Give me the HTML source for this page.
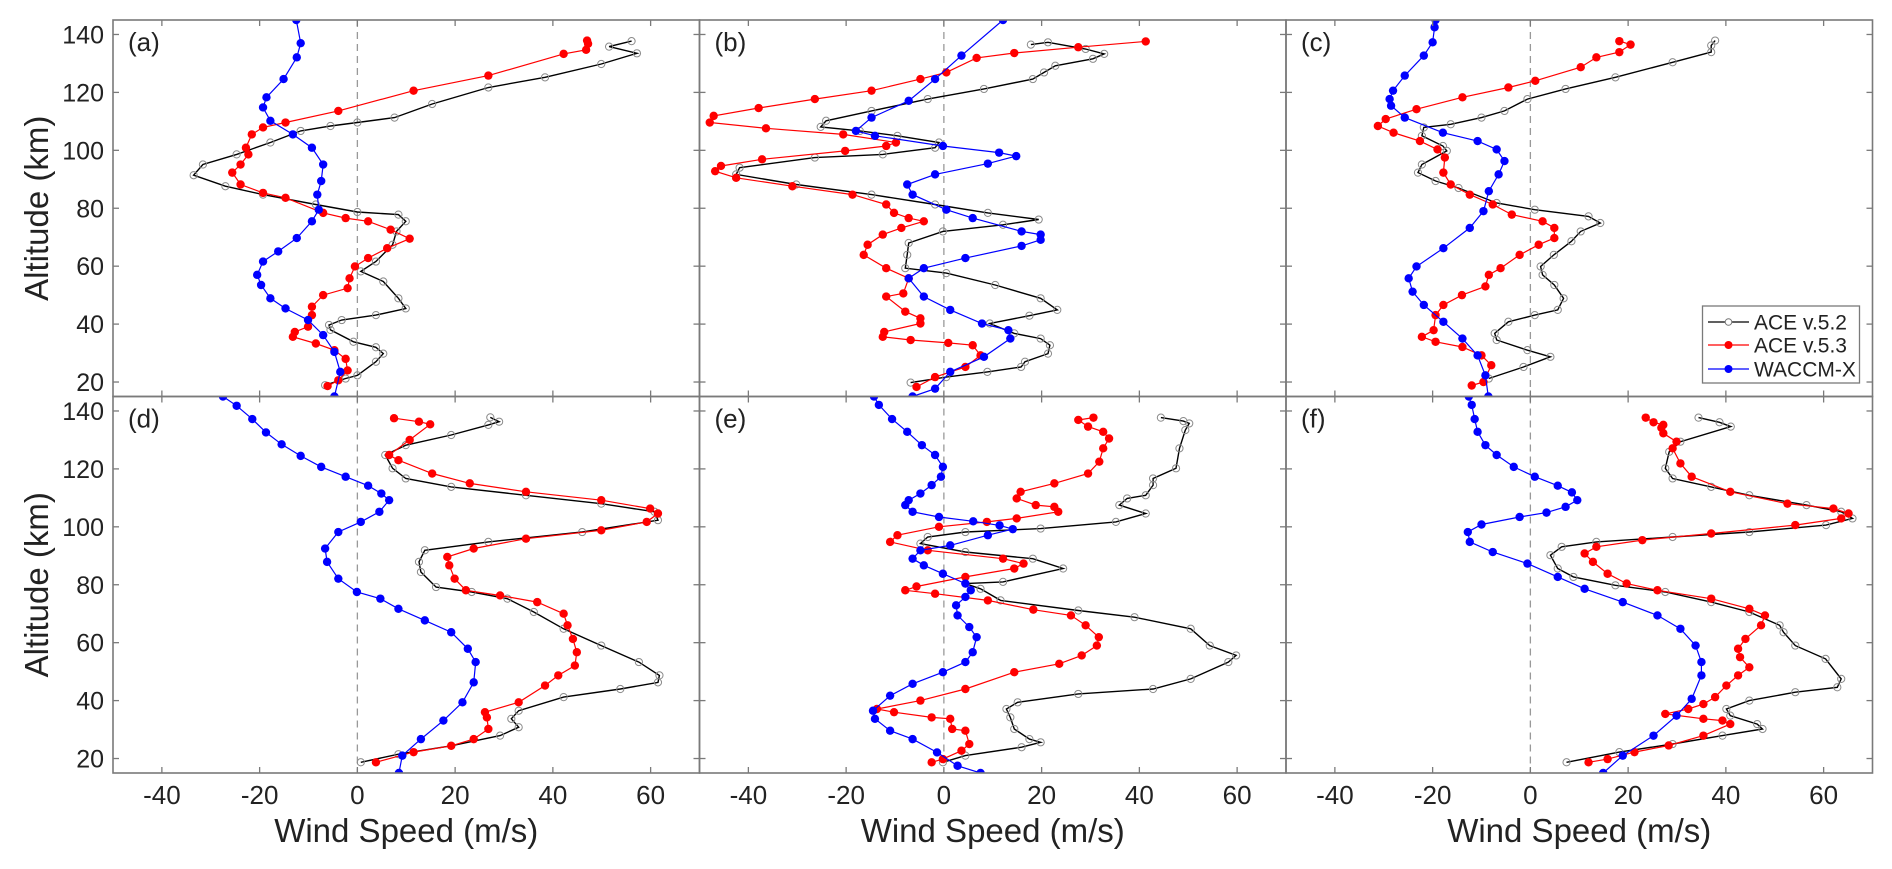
<!DOCTYPE html>
<html><head><meta charset="utf-8">
<style>
html,body{margin:0;padding:0;background:#fff;}
svg{display:block;font-family:"Liberation Sans",Arial,sans-serif;}
</style></head>
<body>
<svg id="chart" width="1892" height="869" viewBox="0 0 1892 869" xmlns="http://www.w3.org/2000/svg"></svg>
<script>
// ---- data (altitude km / wind speed m/s) ----
const xTicks=[-40,-20,0,20,40,60];
const yTicks=[20,40,60,80,100,120,140];
const panelLabels=["(a)","(b)","(c)","(d)","(e)","(f)"];
const seriesNames=["ACE v.5.2","ACE v.5.3","WACCM-X"];

const aBlackAlt=[18.9,21.2,22.3,27,29.8,32,33.9,38,39.7,41.4,43.1,45.4,48.9,54.7,58.2,61.6,67.4,72,75.5,77.8,78.7,81.3,84.7,87.6,91.4,95.1,98.6,102.7,106.7,108.4,109.6,111.3,116,121.7,125.2,129.8,133.5,135.8,137.7];
const aBlackVal=[-6.6,-2.4,0,3.8,5.3,3.8,-0.8,-5.5,-5.8,-3.2,3.8,9.9,8.4,5.3,0.7,3.8,7.2,8,9.9,8.4,0,-8.5,-19.3,-27,-33.5,-31.6,-24.7,-17.8,-11.6,-5.5,0,7.6,15.3,26.8,38.4,49.9,57.2,51.5,56.1];
const aRedAlt=[18.6,20.6,24,28,31,33.3,35.6,37.3,39.1,43.1,46,50,52.4,55.8,59.9,62.8,66.2,69.5,72.6,75.5,76.6,78.4,83.6,85.3,88.2,92.3,95.1,98.6,100.9,105.5,107.9,109.6,113.6,120.6,125.8,133.3,134.7,136.8,137.9];
const aRedVal=[-6.1,-3.9,-2,-2.4,-4.7,-8.5,-13.2,-12.8,-10.1,-9.3,-9.3,-7,-2,-1.6,-0.5,2.2,6.1,10.7,6.8,2.2,-2.4,-7,-14.7,-19.3,-23.9,-25.6,-23.9,-22.3,-22.8,-21.6,-19.3,-14.7,-3.9,11.5,26.8,42.2,46.8,47.2,47];
const aBlueAlt=[15,23.5,30.4,36.2,41.4,45.4,48.9,53.5,57,61.6,65.1,69.7,75.5,79.5,84.7,89.4,95.1,100.9,105.5,110.2,114.8,118.3,124.6,132.1,137,145];
const aBlueVal=[-4.7,-3.5,-4.7,-7,-10.1,-14.7,-17.8,-19.7,-20.5,-19.3,-16.2,-12.4,-9.3,-7.9,-8.2,-7.4,-7,-9.3,-13.2,-17.8,-19.3,-18.6,-15.1,-12.4,-11.6,-12.5];

const bBlackAlt=[19.8,21.7,23.5,25.2,27,29.8,32.7,35,36.8,40.2,42.9,44.9,48.9,53.5,57.6,59.3,63.9,68,72,74.3,76.1,78.4,81.3,84.7,88.2,91.7,94,97.5,98.6,100.9,102.7,105,106.7,108.1,110.2,113.6,117.7,121.2,124.6,126.9,129.2,131.6,133.3,135,137.3,136.5];
const bBlackVal=[-6.8,0.5,8.9,15.8,16.6,21.3,21.7,19.8,14.4,9.4,17.5,23.2,19.8,10.5,0.5,-7.9,-7.5,-7.2,-0.2,12.1,19.4,9,-1.8,-14.8,-30.2,-42.5,-41.8,-26.4,-12.5,-1.8,-1,-9.5,-17.2,-25.2,-24.1,-14.8,-3.3,8.2,18.2,20.5,22.8,30.5,32.8,29,21.3,17.8];
const bRedAlt=[18.3,21.7,25.2,29.2,32.7,33.5,34.5,35.6,37.3,40.2,42,44.3,49.5,50.6,55.8,59.3,63.9,67.4,70.9,73.2,75.5,76.6,78.4,81.3,84.7,87.6,90.5,92.8,94.6,96.9,99.8,101.5,102.7,105.5,107.6,109.6,111.9,114.6,117.7,120.6,124.6,126.9,131.9,133.6,135.6,137.6];
const bRedVal=[-5.6,-1.8,4.4,7.5,5.9,0.9,-6.8,-12.5,-12.2,-4.8,-4.8,-7.9,-11.8,-8.3,-7.2,-11.8,-16.4,-15.6,-12.5,-8.7,-4.1,-7.2,-10.2,-11.8,-18.7,-31,-42.5,-46.8,-45.6,-37.2,-20.2,-11.8,-9.8,-20.6,-36.4,-47.9,-47.1,-37.9,-26.4,-14.8,-4.8,0.5,6.7,14.4,27.5,41.3];
const bBlueAlt=[15,17.7,23.5,28.7,35,37.9,40.2,44.9,49.5,55.8,59.3,62.8,67,69.1,70.9,72,76.6,79.5,84.7,88.2,91.7,95.4,98,99.2,101.5,105,106.7,111.3,117.1,124.6,132.7,145];
const bBlueVal=[-6.4,-1.8,1.3,8.2,13.6,13.2,7.8,1.3,-4.1,-7.2,-4.1,4.4,15.9,19.8,19.8,15.9,5.9,0.5,-6.4,-7.5,-1.8,9,14.8,11.3,-0.2,-14.1,-18,-14.8,-7.2,-1.8,3.6,12.1];

const cBlackAlt=[21.2,25.2,28.7,31,34.5,36.8,40.8,43.1,44.9,48.9,53.5,57,59.9,63.9,68.6,72,74.9,77.2,79.5,81.8,87,89.4,92.3,95.1,99.8,101.5,105,107.9,109,111.3,113.6,117.7,121.2,125.2,130.4,133.9,136.2,137.9];
const cBlackVal=[-8.5,-1.4,4.1,-0.6,-6.9,-7.3,-4.5,0.9,5.6,6.8,4.9,2.5,2.1,4.8,8.4,10.3,14.3,11.9,0.9,-6.9,-14.7,-19.4,-23,-22.2,-17.1,-17.9,-22.2,-21.8,-16.3,-10,-5.3,-0.6,7.2,17.4,29.1,37,37,37.8];
const cRedAlt=[18.8,20,25.8,29.2,32.1,33.9,35.6,37.9,43.1,46.6,50,53,57,59.3,63.9,67.4,69.7,73.2,75.5,77.8,81.3,84.7,88.2,92.3,97.5,100.3,103.2,106.1,108.4,110.8,114.2,118.3,121.7,124,128.7,132.1,133.9,136.5,137.7];
const cRedVal=[-12,-9.6,-8,-10,-13.9,-19.4,-22.2,-19.8,-19.4,-17.8,-14,-9.2,-8.5,-6.1,-2.2,1.7,4.9,4.9,2.5,-3.8,-7.7,-12.4,-16.3,-17.8,-17.5,-19,-22.6,-28,-31.2,-29.6,-23.3,-13.9,-4.5,1,10.3,13.5,18.2,20.5,18.2];
const cBlueAlt=[15,22.3,29.2,35,40.8,46.6,51.2,55.8,59.9,66.2,73.2,79,85.9,91.7,96.3,100.3,103.2,106.1,111.3,115.4,117.7,120.6,125.8,132.7,137.3,142.5,145];
const cBlueVal=[-8.6,-9.2,-10.8,-13.9,-17.8,-21.8,-24.1,-24.9,-23.3,-17.8,-12.4,-9.6,-8.5,-6.5,-5.3,-6.9,-10.8,-17.9,-25.7,-28.5,-28.8,-28.1,-25.7,-21.8,-20,-19.6,-19.4];

const dBlackAlt=[18.7,21.5,24.4,27.9,30.8,33.7,36.5,41.2,44,46.3,48.7,53.3,59,64.8,70.6,75.2,77.5,79.2,84.4,87.9,91.9,94.8,98.2,102.3,105.2,108,110.9,113.8,116.7,120.2,124.8,128.2,131.7,135.2,136.3,137.8];
const dBlackVal=[0.7,8.4,19.2,29.2,33,31.5,33,42.2,53.8,61.5,61.8,57.6,49.9,42.2,36.1,30.7,23.4,16.1,13,12.6,13.8,26.8,46,61.5,60.8,49.9,34.5,19.2,9.9,7.2,5.7,9.9,19.2,26.8,29,27.2];
const dRedAlt=[18.7,22.2,24.4,26.7,30.2,34.2,36,39.4,45.2,48.7,52.1,56.7,61.3,66,70,74,76.3,78.1,82.1,86.7,89.6,92.5,95.9,98.8,101.7,104.6,106.3,109.2,112.1,115,118.4,123,124.8,130,135.4,136.3,137.5];
const dRedVal=[3.8,11.5,19.2,23.8,26.8,26.5,26.1,33,38.4,41.1,44.5,44.9,44.1,43,42.2,36.8,29.2,22.2,19.9,18.8,18.4,23.8,34.5,49.9,59.2,61.5,59.9,49.9,34.5,23,15.3,8.4,6.5,10.7,14.9,12.6,7.5];
const dBlueAlt=[15,21,26.7,33.1,39.4,46.3,53.3,57.9,63.6,67.7,71.7,75.2,77.5,82.1,87.9,92.5,98.2,101.7,105.2,109.2,111.5,114.2,117.3,120.7,124.5,128.5,132.6,137.2,141.8,145];
const dBlueVal=[8.5,9.2,13,17.6,21.5,23.8,24.2,22.6,19.2,13.8,8.4,4.7,-0.1,-3.9,-6.2,-6.6,-3.9,0.7,4.5,6.5,4.9,2.2,-2.4,-7.4,-11.6,-15.5,-18.7,-21.5,-24.7,-27.5];

const eBlackAlt=[18.7,21,23.9,25.6,26.7,30.2,34.2,37.1,39.4,42.3,44,47.5,53.3,55.6,59,64.8,68.8,71.1,74.6,78.6,80.4,81,85.6,89,91.3,94.2,96.5,98.2,99.4,101.7,104.6,107.5,109.8,110.9,114.4,116.7,120.2,127.1,133.4,135.7,136.5,137.7];
const eBlackVal=[-0.2,4.4,15.9,19.8,17.5,14.4,13.6,12.8,15.1,27.5,42.8,50.5,58.2,59.8,54.4,50.5,39,27.5,11.6,7.5,4.4,12.1,24.4,18.2,4.4,-4.8,-3.3,4.4,19.8,35.2,41.3,35.9,37.5,41.3,42.8,42.8,47.5,48.2,49.4,50.2,49,44.4];
const eRedAlt=[18.7,19.8,22.7,25,29.6,30.2,33.7,34.2,36,37.1,40,44,49.8,52.7,55.6,59,61.9,66,69.4,71.4,74.6,76.9,78.1,79.4,82.7,85.6,87.3,89,91.9,94.8,97.1,100,101.7,102.9,105.2,106.9,107.5,109.8,112.1,115,118.4,122.5,127.1,130.5,132.8,134.6,136.9,137.7];
const eRedVal=[-2.5,-0.2,3.6,5.2,4.4,1.7,1.3,-2.5,-10.2,-13.7,-4.8,4.4,14.4,23.6,28.2,31.3,31.7,29,26,18.3,9,-1.8,-7.9,-5.6,4.4,14.4,16.3,12.1,-3.3,-11,-9.5,-1,8.8,14.9,23.4,22.6,18.8,14.9,15.7,22.6,29.5,31.8,32.6,33.8,32.6,29.5,27.5,30.6];
const eBlueAlt=[15,17.5,22.1,26.7,29.6,33.7,36.5,41.7,45.8,49.8,53.3,56.7,61.9,65.4,69.4,72.9,75.8,78.1,80.4,83.8,86.7,89,91.9,93.6,97.1,99.2,100.5,101.9,103.4,105.2,107.5,109.2,111.5,114.4,117.3,120.7,124.8,128.2,132.8,137.2,142.1,145];
const eBlueVal=[7.5,2.8,-1.4,-6.4,-11,-14.1,-14.5,-11,-6.4,-0.2,4.4,5.9,6.7,5.2,2.8,2.5,4.4,5.5,4.4,-0.2,-4.1,-6.4,-4.8,1.3,9,14.1,11.4,6,-1,-6.4,-7.9,-7.2,-4.8,-2.5,-0.6,-0.2,-1.8,-4.5,-7.5,-10.6,-13.3,-14.3];

const fBlackAlt=[18.7,22.2,25,27.9,30.2,31.9,34.8,37.1,40,42.9,44.6,47.5,54.4,59,63.6,66,70.6,74,77.5,79.8,82.7,85.6,90.2,93.1,94.8,96.5,98.2,100.6,102.9,105.2,107.5,110.9,113.8,116.7,120.2,125.9,129.4,134.6,136.1,137.7];
const fBlackVal=[7.4,18.2,29.1,39.3,47.5,46.4,40.9,40.1,44.8,54.2,62.8,63.6,60.4,54.2,51.8,51,44.8,37,27.6,17.4,8.8,5.6,4.1,6.4,13.5,29.1,44.8,60.5,65.9,63.6,56.5,44.8,37,29.1,27.6,28.4,30.7,41,38.7,34.4];
const fRedAlt=[18.7,19.8,22.2,24.5,27.9,31.9,33.1,33.7,35.4,37.1,38.8,41.2,45.2,48.7,51.5,55,57.9,61.3,66,69.4,71.7,75.2,78.1,80.4,83.8,87.9,90.8,93.1,95.4,97.7,100.6,102.9,104.6,106.3,108,112.1,117.3,121.9,127.1,129.4,132.3,134.2,135.2,136.1,137.7];
const fRedVal=[11.9,15.8,21.3,28.3,35.4,40.9,39.3,35.4,27.6,32.3,35.4,37.8,40.1,42.5,44.8,42.9,42.5,44,47.2,48,44.8,37,26,19.7,15.8,12.8,11.1,13.5,22.9,37,54.2,63.6,65.1,62,52.6,40.9,33,30.7,29.1,29.9,27.2,26.8,27.2,25.2,23.6];
const fBlueAlt=[15,21,27.9,34.8,40.6,48.7,53.3,59,64.8,69.4,74,78.6,82.7,87.3,91.3,94.8,98.2,100.8,103.4,104.9,106.9,109.2,111.9,114.2,117.3,120.7,124.8,128.2,132.8,137.2,142.1,145];
const fBlueVal=[14.9,18.9,25.2,29.9,33,35,35,33.8,30.7,26,18.9,11.1,5.6,-0.6,-7.7,-12.4,-12.8,-10,-2.2,3.3,7.2,9.6,8.5,5.6,0.9,-3.4,-6.9,-9.2,-10.8,-11.4,-12,-12.6];

const panelAlts=[[aBlackAlt,aRedAlt,aBlueAlt],[bBlackAlt,bRedAlt,bBlueAlt],[cBlackAlt,cRedAlt,cBlueAlt],[dBlackAlt,dRedAlt,dBlueAlt],[eBlackAlt,eRedAlt,eBlueAlt],[fBlackAlt,fRedAlt,fBlueAlt]];
const panelVals=[[aBlackVal,aRedVal,aBlueVal],[bBlackVal,bRedVal,bBlueVal],[cBlackVal,cRedVal,cBlueVal],[dBlackVal,dRedVal,dBlueVal],[eBlackVal,eRedVal,eBlueVal],[fBlackVal,fRedVal,fBlueVal]];

// ---- layout ----
const NS="http://www.w3.org/2000/svg";
const svg=document.getElementById('chart');
const LEFTS=[113,699.5,1286], TOPS=[20,396.5], W=586.5, H=376.5;
const XMIN=-50,XMAX=70,YMIN=15,YMAX=145;
function mk(tag,attrs,parent){const e=document.createElementNS(NS,tag);for(const k in attrs)e.setAttribute(k,attrs[k]);(parent||svg).appendChild(e);return e;}
const defs=mk('defs',{});

const colors=["#000000","#ff0000","#0000ff"];
for(let p=0;p<6;p++){
  const col=p%3,row=Math.floor(p/3);
  const L=LEFTS[col],T=TOPS[row];
  const sx=v=>L+(v-XMIN)/(XMAX-XMIN)*W;
  const sy=a=>T+H-(a-YMIN)/(YMAX-YMIN)*H;
  const g=mk('g',{});
  
  
  const cp=mk('clipPath',{id:'clip'+p},defs);
  mk('rect',{x:L,y:T,width:W,height:H},cp);
  // zero line
  const z=mk('line',{x1:sx(0),x2:sx(0),y1:T,y2:T+H,stroke:'#999',"stroke-width":1.3,"stroke-dasharray":"7,5"},g);
  
  
  // series
  const sg=mk('g',{"clip-path":'url(#clip'+p+')'},g);
  for(let s=0;s<3;s++){
    const alts=panelAlts[p][s],vals=panelVals[p][s];
    const pts=alts.map((a,i)=>sx(vals[i]).toFixed(1)+','+sy(a).toFixed(1)).join(' ');
    const ser=mk('g',{},sg);
    
    
    mk('polyline',{points:pts,fill:'none',stroke:colors[s],"stroke-width":s==0?1.4:1.2},ser);
    for(let i=0;i<alts.length;i++){
      let m;
      if(s==0) m=mk('circle',{cx:sx(vals[i]),cy:sy(alts[i]),r:3.6,fill:'none',stroke:'#8a8a8a',"stroke-width":1},ser);
      else m=mk('circle',{cx:sx(vals[i]),cy:sy(alts[i]),r:4.2,fill:colors[s]},ser);
      
      
    }
  }
  // frame
  const fr=mk('rect',{x:L,y:T,width:W,height:H,fill:'none',stroke:'#7a7a7a',"stroke-width":1.6},g);
  
  
  // ticks
  xTicks.forEach(v=>{
    mk('line',{x1:sx(v),x2:sx(v),y1:T+H,y2:T+H-6,stroke:'#7a7a7a',"stroke-width":1.3},g);
    mk('line',{x1:sx(v),x2:sx(v),y1:T,y2:T+6,stroke:'#7a7a7a',"stroke-width":1.3},g);
    if(row==1){const t=mk('text',{x:sx(v),y:804,"text-anchor":'middle',"font-size":26,fill:'#222'},g);t.textContent=v;
      }
  });
  yTicks.forEach(a=>{
    mk('line',{x1:L,x2:L+6,y1:sy(a),y2:sy(a),stroke:'#7a7a7a',"stroke-width":1.3},g);
    mk('line',{x1:L+W,x2:L+W-6,y1:sy(a),y2:sy(a),stroke:'#7a7a7a',"stroke-width":1.3},g);
    if(col==0){const t=mk('text',{x:104,y:sy(a)+9,"text-anchor":'end',"font-size":25,fill:'#222'},g);t.textContent=a;
      }
  });
  const pl=mk('text',{x:L+15,y:T+31,"font-size":26,fill:'#222'},g);
  pl.textContent=panelLabels[p];
  
  
  if(row==1){
    const xl=mk('text',{x:L+W/2,y:842,"text-anchor":'middle',"font-size":33,fill:'#222'},g);
    xl.textContent='Wind Speed (m/s)';
    
    
  }
  if(col==0){
    const cy=T+H/2;
    const yl=mk('text',{x:0,y:0,transform:'translate(48,'+cy+') rotate(-90)',"text-anchor":'middle',"font-size":33,fill:'#222'},g);
    yl.textContent='Altitude (km)';
    
    
  }
}
// legend
const lg=mk('g',{});


mk('rect',{x:1702.5,y:306,width:157,height:77,fill:'#fff',stroke:'#7a7a7a',"stroke-width":1.3},lg);
const ly=[322,345,369];
for(let s=0;s<3;s++){
  const e=mk('g',{},lg);
  
  
  mk('line',{x1:1708,x2:1749,y1:ly[s],y2:ly[s],stroke:colors[s],"stroke-width":1.3},e);
  if(s==0) mk('circle',{cx:1728.5,cy:ly[s],r:3.3,fill:'#fff',stroke:'#777',"stroke-width":1},e);
  else mk('circle',{cx:1728.5,cy:ly[s],r:4,fill:colors[s]},e);
  const t=mk('text',{x:1754,y:ly[s]+7.5,"font-size":21,fill:'#222'},e);
  t.textContent=seriesNames[s];
}
</script>
</body></html>
